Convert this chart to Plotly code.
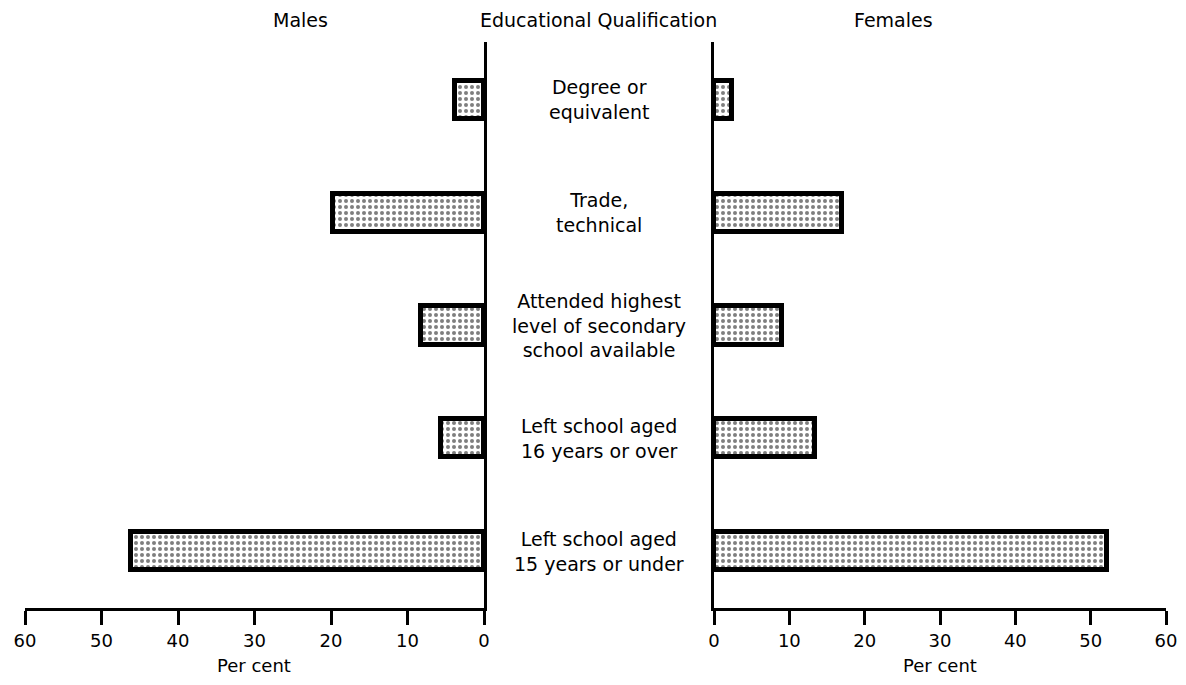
import plotly.graph_objects as go

categories = ["Degree or<br>equivalent", "Trade,<br>technical",
              "Attended highest<br>level of secondary<br>school available",
              "Left school aged<br>16 years or over", "Left school aged<br>15 years or under"]
males = [3.8, 19.7, 8.2, 5.6, 46.1]
females = [2.4, 17.0, 9.0, 13.4, 52.2]
tick_vals = [0, 10, 20, 30, 40, 50, 60]
tick_text = ["0", "10", "20", "30", "40", "50", "60"]
axis_title = "Per cent"

ypos = list(range(len(categories)))
OFF = 8                      # page body margin
W, H = 1186 - 2 * OFF, 685 - 2 * OFF
TOP = 42 - OFF
BOT = H - (608 - OFF)
FAM = "DejaVu Sans, Liberation Sans, sans-serif"
FONT = dict(family=FAM, size=19, color="black")


def px(x):
    return (x - OFF) / W


def py(y):
    # page y (from top) -> paper fraction
    return (H - (y - OFF) - BOT) / (H - TOP - BOT)


pattern = dict(shape=".", fgcolor="black", bgcolor="white", size=6, solidity=0.35)

fig = go.Figure()
fig.add_trace(go.Bar(x=males, y=ypos, orientation="h", xaxis="x", yaxis="y",
                     width=0.34,
                     marker=dict(color="white", pattern=pattern,
                                 line=dict(color="black", width=5)),
                     showlegend=False, hoverinfo="x"))
fig.add_trace(go.Bar(x=females, y=ypos, orientation="h", xaxis="x2", yaxis="y2",
                     width=0.34,
                     marker=dict(color="white", pattern=pattern,
                                 line=dict(color="black", width=5)),
                     showlegend=False, hoverinfo="x"))

yr = [4.505, -0.514]
axis_common = dict(tickvals=tick_vals, ticktext=tick_text, showgrid=False, zeroline=False,
                   showline=True, linecolor="black", linewidth=3, ticks="outside",
                   ticklen=14, tickwidth=3, tickcolor="black", automargin=False,
                   ticklabelstandoff=0,
                   tickfont=dict(family=FAM, size=18, color="black"))

fig.update_layout(
    width=W, height=H, paper_bgcolor="white", plot_bgcolor="white",
    margin=dict(l=0, r=0, t=TOP, b=BOT, autoexpand=False),
    xaxis=dict(domain=[px(25), px(484)], range=[60, 0], anchor="y", **axis_common),
    xaxis2=dict(domain=[px(714), px(1166)], range=[0, 60], anchor="y2", **axis_common),
    yaxis=dict(range=yr, anchor="x", side="right", showline=True, linecolor="black",
               linewidth=3, showticklabels=False, ticks="", showgrid=False, zeroline=False,
               automargin=False),
    yaxis2=dict(range=yr, anchor="x2", side="left", showline=True, linecolor="black",
                linewidth=3, showticklabels=False, ticks="", showgrid=False, zeroline=False,
                automargin=False),
    bargap=0,
)

for yv, cat in zip(ypos, categories):
    fig.add_annotation(x=px(599), xref="paper", y=yv, yref="y", text=cat, showarrow=False,
                       font=FONT, align="center", xanchor="center", yanchor="middle")

for xp, txt in [(300, "Males"), (598, "Educational Qualification"), (893, "Females")]:
    fig.add_annotation(x=px(xp), xref="paper", y=py(20), yref="paper", yanchor="middle",
                       text=txt, showarrow=False, font=FONT, xanchor="center")

for xp in (254, 940):
    fig.add_annotation(x=px(xp), xref="paper", y=py(678), yref="paper", yanchor="bottom",
                       text=axis_title, showarrow=False,
                       font=dict(family=FAM, size=18, color="black"), xanchor="center")

fig.write_html("out.html")
